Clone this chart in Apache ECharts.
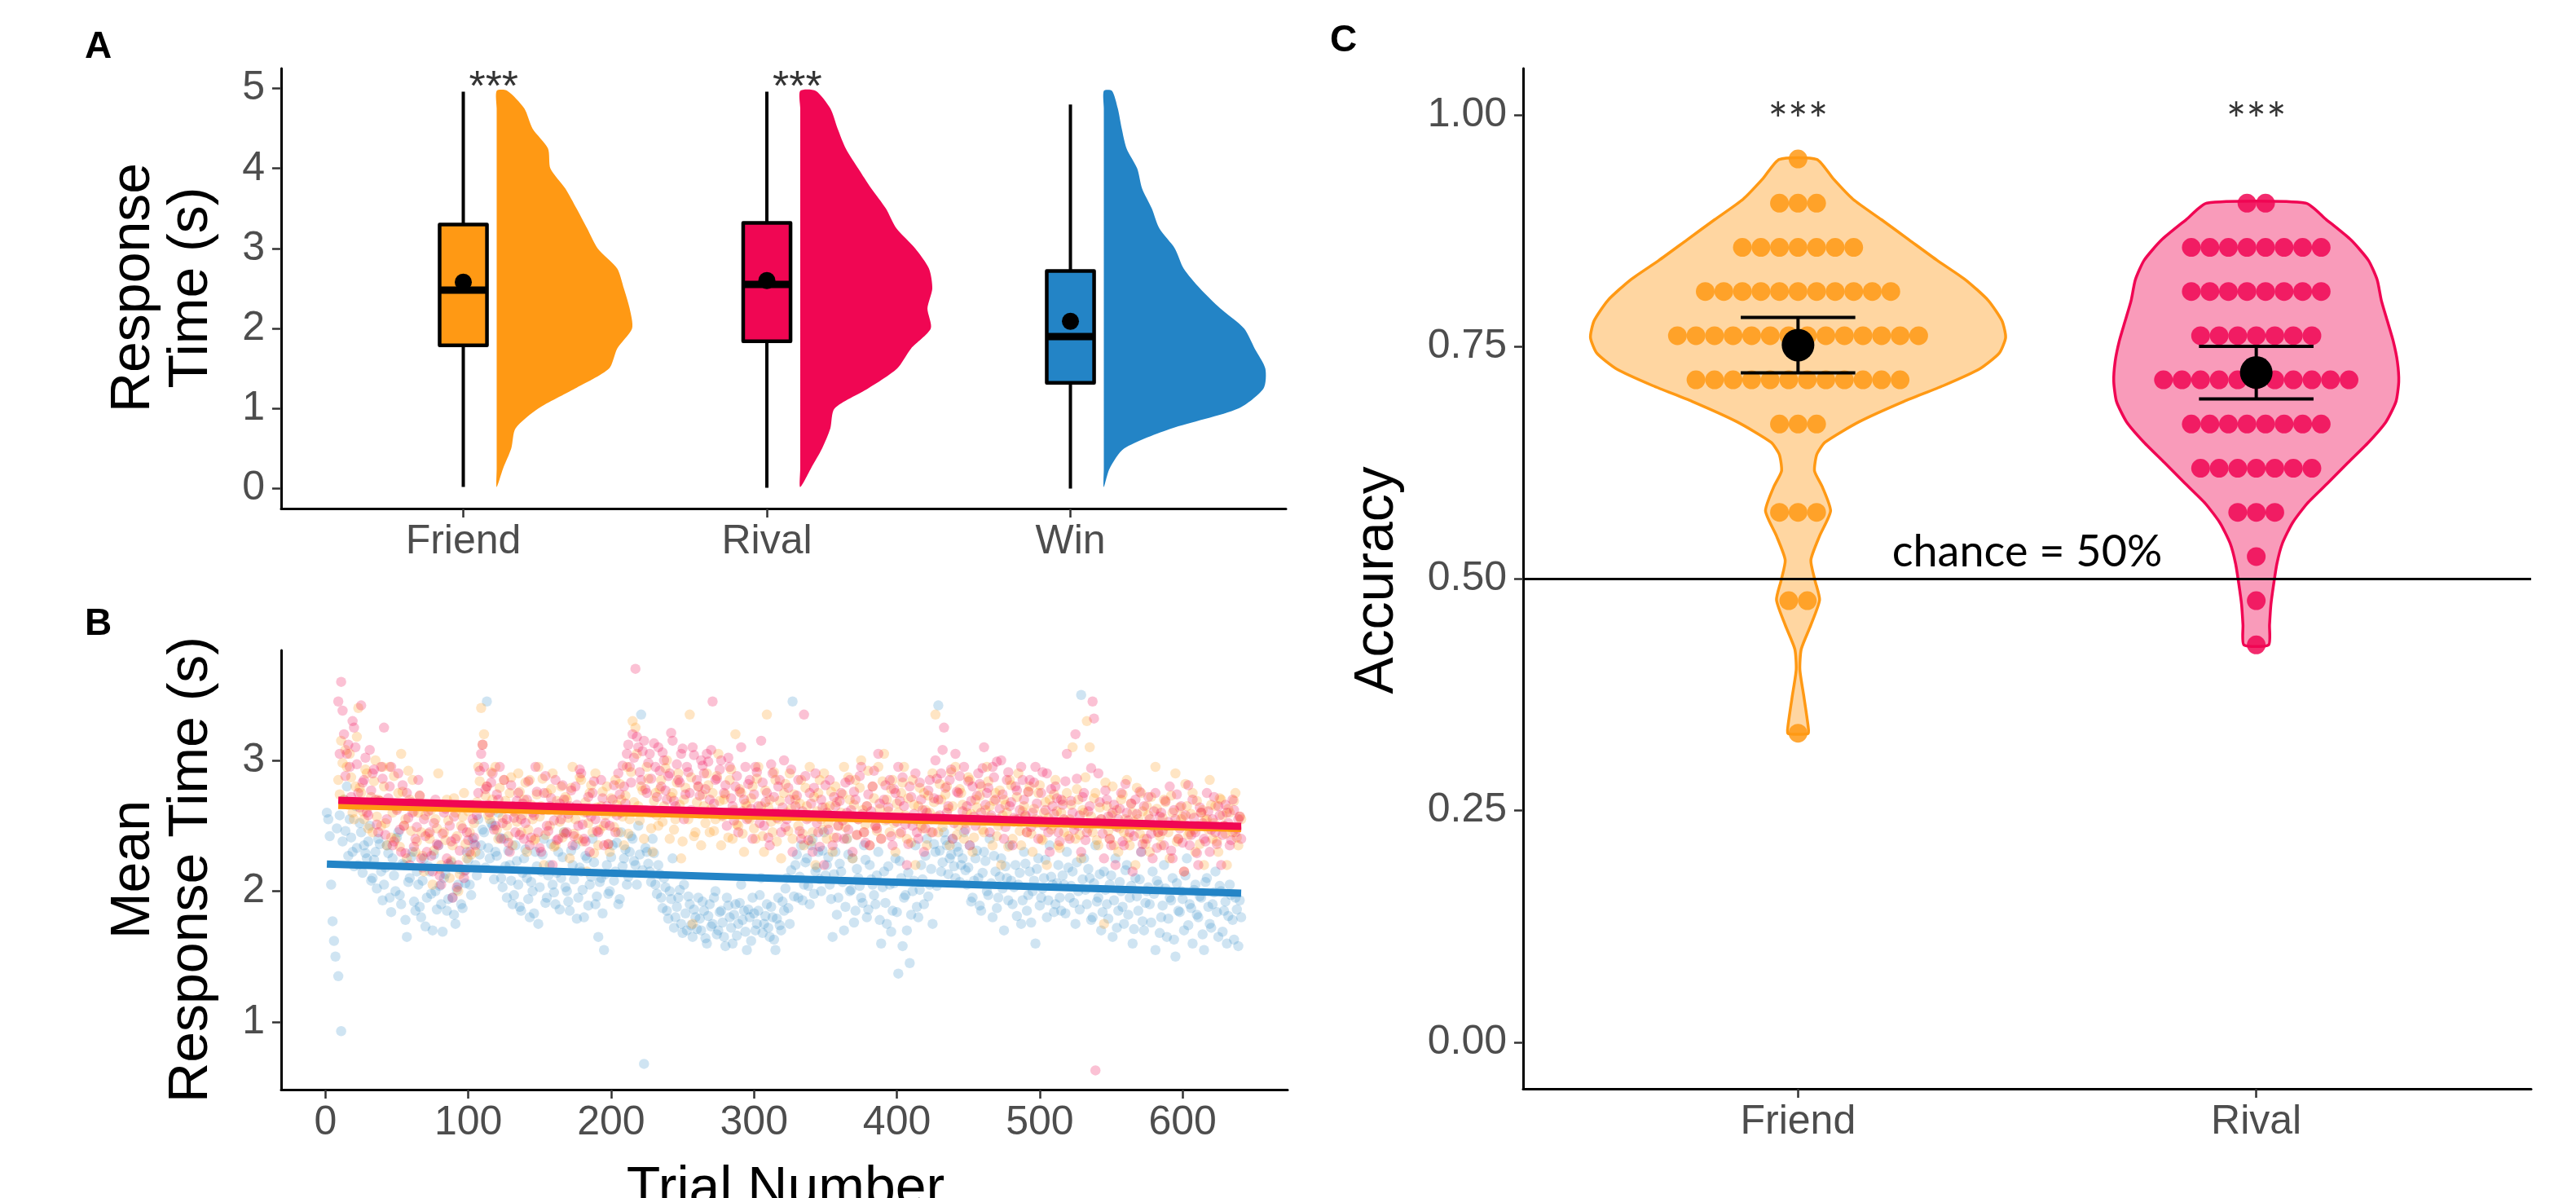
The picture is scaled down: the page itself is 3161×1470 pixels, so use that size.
<!DOCTYPE html>
<html><head><meta charset="utf-8">
<script src="https://cdn.jsdelivr.net/npm/echarts@6/dist/echarts.min.js"></script>
<style>html,body{margin:0;padding:0;background:#fff}#c{width:3161px;height:1470px}</style>
</head><body><div id="c"></div>
<script>
// ---------- DATA ----------
const categoriesA = ['Friend', 'Rival', 'Win'];
const categoriesC = ['Friend', 'Rival'];
const colFriend = '#FF9914', colRival = '#F00653', colWin = '#2384C6';
const colorsA = [colFriend, colRival, colWin];

// Panel A: box statistics (s)
const whiskerLow = [0.02, 0.01, 0.00];
const q1 = [1.79, 1.84, 1.32];
const median = [2.48, 2.55, 1.90];
const q3 = [3.30, 3.32, 2.72];
const whiskerHigh = [4.96, 4.96, 4.80];
const meanRT = [2.58, 2.60, 2.09];
const sigA = ['***', '***', ''];

// Panel A: half-violin density widths (x-axis units) at response-time levels
const rtLevels = [0.02, 0.25, 0.5, 0.75, 1, 1.25, 1.5, 1.75, 2, 2.25, 2.5, 2.75, 3, 3.25, 3.5, 3.75, 4, 4.25, 4.5, 4.75, 4.97];
const densFriend = [0, 0.021, 0.048, 0.062, 0.137, 0.258, 0.370, 0.397, 0.446, 0.438, 0.419, 0.397, 0.333, 0.298, 0.263, 0.226, 0.177, 0.169, 0.118, 0.091, 0.035];
const densRival = [0, 0.035, 0.072, 0.099, 0.113, 0.223, 0.319, 0.365, 0.430, 0.419, 0.435, 0.424, 0.379, 0.317, 0.282, 0.234, 0.191, 0.150, 0.123, 0.099, 0.051];
const densWin = [0, 0.019, 0.067, 0.223, 0.443, 0.526, 0.532, 0.497, 0.462, 0.384, 0.317, 0.263, 0.234, 0.183, 0.158, 0.126, 0.110, 0.075, 0.059, 0.046, 0.027];

// Panel B: mean response time per trial (odd trials and even trials)
const trialStep = 2;
const startOddFR = 9, startEvenFR = 10, startOddWin = 1, startEvenWin = 2;
const rtRivalOdd = [
3.45,3.60,3.20,3.05,2.95,3.30,3.10,2.75,3.42,2.85,2.60,3.08,2.90,2.70,2.45,2.95,
3.25,2.55,2.80,2.35,2.65,2.90,2.30,2.50,2.75,2.20,2.60,2.40,2.85,2.25,2.55,2.30,
2.45,2.15,2.70,2.35,2.05,2.60,2.25,2.50,1.95,2.40,2.20,2.65,2.10,2.45,2.30,2.55,
2.35,2.75,3.05,2.95,2.80,2.60,2.90,2.50,2.70,2.40,2.85,2.55,2.30,2.65,2.45,2.75,
2.55,2.40,2.70,2.35,2.60,2.95,2.45,2.30,2.75,2.50,2.65,2.20,2.85,2.40,2.55,2.70,
2.45,2.65,2.35,2.80,2.50,2.90,2.40,2.60,2.30,2.75,2.55,2.45,2.85,2.35,2.65,2.50,
2.70,2.45,2.90,2.60,2.80,3.05,2.95,3.20,3.70,3.10,2.85,3.15,2.75,3.05,2.60,2.95,
3.10,2.80,3.00,2.70,2.90,3.15,2.65,2.85,3.05,2.55,2.95,2.75,3.10,2.60,2.80,3.00,
2.90,3.05,2.70,3.45,2.85,2.60,3.00,2.75,2.50,2.95,2.65,2.80,2.45,3.10,2.70,2.55,
2.85,2.40,2.95,2.65,3.15,2.50,2.75,2.35,2.90,2.60,2.80,2.45,3.00,2.55,2.70,2.30,
2.65,2.85,2.40,3.35,2.55,2.75,2.30,2.90,2.45,2.70,2.20,2.60,2.85,2.35,2.65,2.50,
2.75,2.40,2.60,2.85,2.30,2.70,2.55,2.95,2.45,2.65,2.35,2.80,2.50,3.05,2.40,2.70,
2.55,2.85,2.35,2.75,2.95,2.45,2.65,2.20,2.80,2.50,2.90,2.40,2.70,2.30,2.60,2.85,
2.45,3.00,2.70,2.90,3.25,2.60,2.85,2.40,3.05,2.75,2.55,2.95,2.65,2.35,2.80,2.50,
2.90,2.60,3.10,2.75,2.45,2.95,2.70,2.55,3.00,2.40,2.85,2.65,2.35,2.80,2.55,2.95,
2.70,2.45,2.85,2.60,2.95,2.40,2.75,2.50,2.90,2.30,2.65,2.80,2.45,2.70,2.55,3.05,
2.40,2.60,3.20,2.50,2.30,2.75,2.45,2.65,3.45,0.63,2.90,2.55,2.25,2.70,2.40,2.60,
2.20,2.55,2.75,2.35,2.60,2.45,2.15,2.70,2.50,2.30,2.65,2.40,2.55,2.25,2.75,2.45,
2.60,2.35,2.50,2.80,2.25,2.55,2.40,2.65,2.15,2.50,2.35,2.70,2.45,2.20,2.60,2.40,
2.75,2.30,2.55,2.45,2.65,2.20,2.50,2.60,2.35,2.70,2.45,2.55,2.40];
const rtRivalEven = [
3.05,3.38,2.88,3.12,2.72,3.25,2.97,2.64,2.83,3.02,2.58,2.77,2.93,2.51,2.69,2.86,
2.43,2.71,2.95,2.38,2.62,2.47,2.81,2.29,2.56,2.68,2.34,2.49,2.73,2.18,2.42,2.61,
2.27,2.52,2.36,2.12,2.44,2.63,2.21,2.38,2.57,2.03,2.31,2.48,2.16,2.39,2.66,2.41,
2.58,2.92,3.12,2.78,2.66,2.83,2.47,2.74,2.95,2.52,2.63,2.37,2.81,2.56,2.69,2.43,
2.67,2.52,2.84,2.41,2.58,2.76,2.33,2.62,2.88,2.46,2.71,2.54,2.39,2.67,2.81,2.44,
2.59,2.77,2.42,2.66,2.93,2.51,2.38,2.72,2.57,2.84,2.46,2.63,2.71,2.52,2.36,2.62,
2.81,2.58,2.74,2.96,2.67,3.12,2.83,3.02,3.18,2.91,3.07,2.78,2.98,2.86,3.13,2.72,
2.92,3.06,2.77,2.88,3.21,2.69,2.97,2.83,3.09,2.74,2.91,2.62,3.04,2.85,2.73,2.96,
2.78,2.99,3.08,2.67,2.86,2.93,2.58,2.81,3.02,2.71,2.54,2.88,2.76,2.61,2.95,2.82,
2.63,2.74,2.91,2.52,2.83,2.68,2.41,2.97,2.72,2.56,2.85,2.64,2.49,2.79,2.93,2.58,
2.73,2.46,2.61,2.88,2.39,2.67,2.79,2.52,2.34,2.64,2.81,2.47,2.58,2.72,2.41,2.69,
2.54,2.83,2.47,2.62,2.76,2.43,2.88,2.59,2.37,2.74,2.61,2.92,2.48,2.67,2.56,2.81,
2.64,2.42,2.78,2.53,2.69,2.87,2.51,2.36,2.72,2.59,2.45,2.83,2.62,2.48,2.77,2.55,
2.71,2.86,2.58,3.08,2.79,2.65,2.93,2.52,2.76,2.88,2.61,2.47,2.84,2.69,2.57,2.73,
2.82,2.94,2.66,2.79,2.58,2.87,2.99,2.63,2.74,2.49,2.91,2.68,2.56,2.77,2.62,2.85,
2.58,2.76,2.49,2.83,2.67,2.54,2.91,2.62,2.45,2.78,2.59,2.71,2.38,2.66,2.84,2.53,
2.69,2.47,2.86,2.58,2.72,2.39,2.61,2.94,3.32,2.53,2.68,2.44,2.77,2.57,2.35,2.66,
2.49,2.63,2.38,2.82,2.54,2.67,2.42,2.59,2.76,2.36,2.51,2.72,2.44,2.61,2.33,2.57,
2.46,2.69,2.53,2.31,2.62,2.74,2.48,2.37,2.58,2.81,2.43,2.56,2.29,2.64,2.52,2.38,
2.61,2.47,2.72,2.36,2.58,2.43,2.66,2.52,2.39,2.62,2.48,2.57];
const rtFriendOdd = [
2.85,3.15,2.70,2.95,3.05,2.60,2.80,3.40,2.75,2.55,2.90,2.65,2.45,3.00,2.70,2.50,
2.80,2.35,2.95,2.60,2.40,2.75,3.05,2.50,2.25,2.70,2.85,2.30,2.60,2.45,2.15,2.65,
2.40,2.05,2.55,2.90,2.20,2.45,2.70,2.10,2.35,2.60,2.00,2.50,2.75,2.25,2.45,2.65,
2.30,2.95,3.40,3.20,2.80,2.55,2.70,2.95,2.40,2.65,2.85,2.50,2.75,2.35,2.60,2.90,
2.45,2.70,2.30,2.85,2.55,2.40,2.95,2.65,2.20,2.75,2.50,2.90,2.35,2.60,2.80,2.45,
2.70,2.25,2.95,2.55,2.40,2.85,2.60,2.15,2.75,2.45,2.90,2.35,2.65,2.50,2.80,2.30,
2.60,2.85,2.45,2.70,2.35,2.95,2.55,3.30,3.25,2.65,2.80,2.40,2.95,2.60,2.30,2.75,
2.50,2.85,2.65,3.00,2.40,2.75,2.55,2.90,2.25,2.70,2.60,3.35,1.75,2.45,2.80,2.35,
2.65,2.90,2.45,2.75,2.55,3.05,2.35,2.70,2.60,2.85,2.40,3.20,2.50,2.75,2.30,2.65,
2.55,2.80,2.40,2.95,2.65,2.30,3.35,2.70,2.45,2.85,2.55,2.25,2.75,2.60,2.90,2.40,
2.70,2.50,2.85,2.35,2.65,2.95,2.45,2.20,2.75,2.55,2.90,2.40,2.65,2.30,2.80,2.50,
2.60,2.95,2.40,2.70,2.25,2.85,2.55,3.00,2.45,2.65,2.35,2.80,2.50,2.95,2.40,3.05,
2.70,2.45,2.85,2.30,2.60,2.75,2.95,2.40,2.55,2.85,2.20,2.65,2.50,2.75,2.35,2.60,
2.90,3.35,2.45,2.70,2.55,2.80,2.35,2.65,2.95,2.50,2.75,2.40,2.60,2.85,2.30,2.70,
2.55,2.80,2.45,2.95,2.65,2.35,2.75,2.50,2.20,2.70,2.60,2.85,2.40,2.55,2.90,2.35,
2.65,2.45,2.80,2.30,2.55,2.75,2.40,2.60,2.20,2.70,2.50,2.85,2.35,2.60,2.45,2.75,
2.55,3.10,2.40,2.70,2.25,2.60,3.30,3.10,2.45,2.75,2.35,2.55,1.75,2.65,2.40,2.80,
2.50,2.30,2.70,2.45,2.85,2.35,2.60,2.20,2.55,2.75,2.40,2.65,2.30,2.50,2.95,2.45,
2.35,2.70,2.50,2.25,2.60,2.90,2.40,2.55,2.15,2.65,2.45,2.75,2.30,2.50,2.60,2.20,
2.55,2.85,2.40,2.65,2.30,2.70,2.50,2.20,2.60,2.45,2.75,2.35,2.55];
const rtFriendEven = [
2.74,2.98,3.08,2.66,2.87,2.55,3.18,2.79,2.61,2.93,2.48,2.72,2.84,2.57,2.69,2.95,
2.52,2.67,2.41,2.88,2.63,2.34,2.76,2.55,2.92,2.46,2.61,2.38,2.73,2.27,2.58,2.44,
2.62,2.31,2.48,2.17,2.66,2.39,2.54,2.23,2.71,2.42,2.13,2.57,2.36,2.61,2.28,2.52,
2.68,2.84,3.12,2.73,2.58,2.91,2.62,2.47,2.79,2.56,2.69,2.42,2.87,2.61,2.53,2.76,
2.58,2.83,2.47,2.66,2.39,2.74,2.57,2.86,2.43,2.62,2.78,2.34,2.69,2.53,2.41,2.72,
2.56,2.79,2.44,2.63,2.87,2.38,2.68,2.52,2.81,2.29,2.64,2.47,2.76,2.58,2.36,2.71,
2.49,2.66,2.82,2.57,2.73,2.44,2.91,2.68,3.05,2.54,2.77,2.62,2.86,2.48,2.69,2.58,
2.78,2.53,2.94,2.61,2.72,2.47,2.83,2.66,2.38,2.79,2.55,2.87,2.42,2.68,2.59,2.74,
2.52,2.81,2.63,2.46,2.88,2.69,2.57,2.74,2.41,2.93,2.62,2.51,2.78,2.44,2.67,2.56,
2.71,2.48,2.86,2.59,2.42,2.77,2.64,2.53,2.91,2.38,2.69,2.57,2.82,2.46,2.63,2.74,
2.58,2.67,2.44,2.79,2.56,2.38,2.72,2.61,2.85,2.47,2.64,2.52,2.76,2.41,2.68,2.57,
2.74,2.49,2.87,2.58,2.66,2.43,2.79,2.62,2.51,2.92,2.57,2.71,2.46,2.63,2.84,2.54,
2.61,2.78,2.52,2.67,2.44,2.83,2.58,2.71,2.37,2.66,2.54,2.79,2.48,2.62,2.73,2.45,
2.68,2.57,2.82,2.49,2.74,2.63,2.91,2.55,2.43,2.78,2.66,2.52,2.87,2.59,2.41,2.64,
2.73,2.47,2.62,2.84,2.56,2.69,2.42,2.77,2.58,2.66,2.34,2.81,2.53,2.72,2.46,2.61,
2.57,2.76,2.44,2.63,2.52,2.81,2.39,2.68,2.56,2.47,2.74,2.61,2.33,2.69,2.54,2.42,
2.66,2.51,2.78,2.43,2.62,2.87,2.48,2.57,2.71,2.39,2.64,2.52,2.83,2.46,2.58,2.35,
2.62,2.48,2.74,2.55,2.41,2.67,2.53,2.79,2.44,2.61,2.36,2.58,2.72,2.49,2.63,2.42,
2.56,2.68,2.45,2.73,2.51,2.38,2.64,2.57,2.82,2.43,2.59,2.47,2.69,2.36,2.62,2.54,
2.47,2.66,2.52,2.38,2.71,2.58,2.44,2.63,2.49,2.69,2.41,2.57];
const rtWinOdd = [
2.60,2.42,1.77,1.50,1.35,0.93,2.70,2.80,2.55,2.30,2.65,2.20,2.45,2.35,2.25,2.50,
2.10,2.30,2.40,2.15,2.05,2.35,1.95,2.25,2.00,2.45,1.90,2.20,1.65,2.10,2.30,1.85,
2.05,1.80,2.25,1.95,2.15,1.70,2.00,2.35,1.90,2.10,1.85,2.20,1.95,1.75,2.05,1.90,
2.15,2.30,2.05,2.40,2.20,2.55,2.35,2.45,3.45,2.25,2.50,2.30,2.60,2.10,2.40,1.95,
2.20,1.90,2.35,2.05,1.85,2.25,2.10,1.80,2.00,2.30,1.75,2.15,2.40,1.95,2.20,2.05,
1.90,2.30,2.10,2.45,2.00,1.85,2.20,2.35,1.95,2.15,1.80,2.25,2.05,2.40,1.90,1.65,
2.10,1.55,2.20,2.00,2.35,2.15,1.90,2.45,2.25,2.05,2.30,2.40,2.20,2.50,3.35,0.68,
2.30,2.15,2.40,2.05,2.20,1.95,2.10,1.85,2.00,2.25,1.80,1.95,1.75,2.05,1.70,1.90,
1.65,1.80,1.95,1.70,1.85,1.60,1.90,1.75,2.00,1.70,1.85,1.65,1.95,1.80,1.60,1.90,
1.75,2.05,1.85,1.55,1.80,1.95,1.70,1.85,2.10,1.75,1.90,1.65,1.80,1.55,1.95,1.70,
1.85,2.10,1.75,3.45,2.20,1.95,2.35,2.05,2.25,1.90,2.40,2.15,2.30,2.00,2.45,2.20,
2.05,1.65,2.30,1.95,2.15,1.70,2.40,2.00,2.25,1.85,2.10,1.95,2.35,1.80,2.20,2.05,
1.90,2.30,1.60,2.15,1.75,2.05,1.85,2.25,1.37,2.10,1.95,1.70,1.45,2.00,2.35,1.80,
2.20,1.90,2.40,2.05,1.75,2.30,3.42,2.15,2.45,2.35,2.25,2.40,2.10,2.30,2.20,2.45,
2.05,2.35,1.95,2.25,2.10,1.85,2.30,2.00,2.40,1.80,2.15,1.95,2.25,1.70,2.10,2.35,
1.90,2.20,2.05,1.75,2.30,1.85,2.15,2.00,1.60,2.25,1.95,2.10,1.80,2.35,2.05,1.90,
2.20,1.85,2.05,2.30,1.95,2.15,1.75,2.00,3.50,2.25,1.90,2.10,1.80,2.35,1.95,1.70,
2.15,1.90,2.05,1.65,2.25,1.85,2.00,1.75,2.20,1.95,1.60,2.10,1.85,2.30,1.70,2.00,
1.90,2.15,1.55,2.05,1.80,2.20,1.65,1.95,2.10,1.50,1.85,2.00,1.70,2.25,1.90,1.60,
2.05,1.80,1.95,1.55,2.10,1.75,1.90,2.15,1.65,2.00,1.85,1.60,2.05,1.78,1.95,1.58,
1.80];
const rtWinEven = [
2.55,2.05,1.62,2.48,2.58,2.38,2.46,2.27,2.41,2.19,2.33,2.52,2.14,2.29,2.38,2.08,
2.24,2.02,2.36,1.93,2.18,2.29,1.84,2.12,2.41,1.97,2.21,1.78,2.07,2.26,1.92,2.15,
1.88,2.08,1.73,2.19,1.98,2.28,1.86,2.04,1.69,2.13,1.94,2.22,1.82,2.01,2.17,1.87,
2.06,2.24,1.97,2.36,2.12,2.28,2.47,2.18,2.33,2.52,2.09,2.27,2.41,2.03,2.19,2.31,
2.08,1.97,2.23,1.88,2.14,2.32,1.94,2.07,1.83,2.19,2.03,2.28,1.91,2.12,2.36,1.99,
2.14,1.86,2.26,2.03,1.92,2.31,2.09,1.79,2.18,2.01,2.27,1.89,2.11,2.22,1.96,2.07,
1.83,2.13,1.98,2.26,2.08,2.37,1.94,2.19,2.32,2.11,2.42,2.23,2.05,2.28,2.16,2.33,
2.21,2.07,2.29,1.98,2.13,1.87,2.03,1.79,1.94,1.72,1.88,2.01,1.68,1.83,1.96,1.74,
1.86,1.71,1.79,1.92,1.64,1.81,1.73,1.95,1.67,1.84,1.76,1.58,1.89,1.72,1.82,1.66,
1.91,1.78,1.69,1.86,1.62,1.83,1.75,1.97,1.68,1.81,1.72,1.88,1.63,1.79,1.74,1.92,
2.02,1.87,2.16,1.96,2.28,2.11,1.93,2.22,2.04,2.35,1.98,2.18,2.09,2.31,2.12,2.26,
1.94,2.13,1.82,2.21,2.07,1.88,2.28,2.01,1.76,2.17,2.04,1.91,2.24,1.86,2.09,1.97,
2.12,1.78,2.03,1.91,2.19,1.69,2.06,1.84,2.23,1.58,1.97,2.14,1.82,2.08,1.88,2.01,
2.09,2.27,1.96,2.17,2.36,2.04,2.31,2.22,2.39,2.13,2.28,2.19,2.34,2.07,2.25,2.16,
2.18,1.92,2.08,2.31,1.89,2.14,2.23,1.97,2.06,2.27,1.87,2.11,2.02,2.19,1.93,2.08,
2.03,1.81,2.14,1.93,2.21,1.97,1.76,2.08,2.17,1.89,2.02,2.24,1.93,2.11,1.84,2.06,
1.95,2.12,1.83,2.18,2.04,1.91,2.22,1.86,2.09,2.01,2.17,1.78,2.06,1.92,2.13,1.84,
2.01,1.79,2.12,1.93,1.72,2.07,1.88,2.16,1.82,2.04,1.71,1.96,2.09,1.77,1.91,2.03,
1.76,1.98,2.08,1.68,1.89,2.02,1.79,1.93,1.63,2.06,1.84,1.94,2.12,1.74,1.87,2.01,
1.82,1.96,1.67,2.07,1.88,1.72,1.99,1.84,2.04,1.69,1.92,1.81,1.97,1.63,1.86,1.93];
// Panel B: fitted regression lines [trial, value]
const fitWin = [[1, 2.207], [641, 1.985]];
const fitFriend = [[9, 2.655], [641, 2.480]];
const fitRival = [[9, 2.695], [641, 2.495]];
const trialTicks = [0, 100, 200, 300, 400, 500, 600];
const rtTicksB = [1, 2, 3];
const rtTicksA = [0, 1, 2, 3, 4, 5];

// Panel C: accuracy dot rows (proportion correct) and participant counts
const accLevelsFriend = [0.9524, 0.9048, 0.8571, 0.8095, 0.7619, 0.7143, 0.6667, 0.5714, 0.4762, 0.3333];
const accCountsFriend = [1, 3, 7, 11, 14, 12, 3, 3, 2, 1];
const accLevelsRival = [0.9048, 0.8571, 0.8095, 0.7619, 0.7143, 0.6667, 0.6190, 0.5714, 0.5238, 0.4762, 0.4286];
const accCountsRival = [2, 8, 8, 7, 11, 8, 7, 3, 1, 1, 1];
// Panel C: violin half-widths (x-axis units) at accuracy levels
const vLevelsFriend = [0.333, 0.341, 0.372, 0.402, 0.424, 0.450, 0.477, 0.498, 0.520, 0.546, 0.573, 0.599, 0.616, 0.634, 0.647, 0.669, 0.691, 0.708, 0.726, 0.743, 0.760, 0.778, 0.800, 0.822, 0.843, 0.865, 0.887, 0.909, 0.931, 0.952];
const vWidthFriend = [0.022, 0.022, 0.013, 0.004, 0.007, 0.028, 0.047, 0.037, 0.028, 0.047, 0.071, 0.053, 0.036, 0.041, 0.059, 0.133, 0.231, 0.317, 0.396, 0.439, 0.453, 0.445, 0.415, 0.366, 0.304, 0.243, 0.182, 0.120, 0.077, 0.041];
const vLevelsRival = [0.4286, 0.450, 0.472, 0.494, 0.516, 0.538, 0.560, 0.581, 0.603, 0.625, 0.647, 0.669, 0.691, 0.7125, 0.734, 0.756, 0.778, 0.800, 0.822, 0.843, 0.865, 0.887, 0.9048];
const vWidthRival = [0.027, 0.029, 0.032, 0.038, 0.045, 0.057, 0.079, 0.111, 0.156, 0.200, 0.245, 0.283, 0.305, 0.311, 0.308, 0.299, 0.286, 0.273, 0.264, 0.245, 0.207, 0.153, 0.108];
// Panel C: mean and standard error
const accMean = [0.7518, 0.7222];
const accLow = [0.7218, 0.6937];
const accHigh = [0.7815, 0.7503];
const accTicks = [0, 0.25, 0.5, 0.75, 1];
const chanceLevel = 0.5;

// ---------- STYLE / LAYOUT ----------
const FONT = 'Liberation Sans';
const tickLabelColor = '#4D4D4D';
const violinOffsetA = 0.11;
const boxHalfA = 0.078;
const dotStep = 0.0405;

function xAxisCfg(gridIndex, min, max, ticks, fmt, margin) {
  return {
    type: 'value', gridIndex, min, max,
    axisLine: { show: true, onZero: false, lineStyle: { color: '#000', width: 3 } },
    axisTick: { show: true, length: 11, customValues: ticks, lineStyle: { color: '#333', width: 2.5 } },
    axisLabel: { show: true, customValues: ticks, formatter: fmt, color: tickLabelColor, fontSize: 50, fontFamily: FONT, margin },
    splitLine: { show: false }
  };
}
function yAxisCfg(gridIndex, min, max, ticks, fmt) {
  return {
    type: 'value', gridIndex, min, max,
    axisLine: { show: true, onZero: false, lineStyle: { color: '#000', width: 3 } },
    axisTick: { show: true, length: 11, customValues: ticks, lineStyle: { color: '#333', width: 2.5 } },
    axisLabel: { show: true, customValues: ticks, formatter: fmt, color: tickLabelColor, fontSize: 50, fontFamily: FONT, margin: 20 },
    splitLine: { show: false }
  };
}

const densA = [densFriend, densRival, densWin];

function renderHalfViolin(params, api) {
  const i = params.dataIndex;
  const cx = api.value(0) + violinOffsetA;
  const d = densA[i];
  const pts = [];
  for (let k = 0; k < rtLevels.length; k++) pts.push(api.coord([cx + d[k], rtLevels[k]]));
  for (let k = rtLevels.length - 1; k >= 1; k--) pts.push(api.coord([cx, rtLevels[k]]));
  return { type: 'polygon', shape: { points: pts, smooth: 0.25 }, style: { fill: colorsA[i], stroke: null } };
}

function renderBox(params, api) {
  const i = params.dataIndex;
  const x = api.value(0);
  const lo = api.coord([x, api.value(1)]);
  const b1 = api.coord([x, api.value(2)]);
  const md = api.coord([x, api.value(3)]);
  const b3 = api.coord([x, api.value(4)]);
  const hi = api.coord([x, api.value(5)]);
  const mn = api.coord([x, api.value(6)]);
  const hw = api.size([boxHalfA, 0])[0];
  return {
    type: 'group', children: [
      { type: 'line', shape: { x1: lo[0], y1: lo[1], x2: b1[0], y2: b1[1] }, style: { stroke: '#000', lineWidth: 4 } },
      { type: 'line', shape: { x1: b3[0], y1: b3[1], x2: hi[0], y2: hi[1] }, style: { stroke: '#000', lineWidth: 4 } },
      { type: 'rect', shape: { x: b1[0] - hw, y: b3[1], width: 2 * hw, height: b1[1] - b3[1] }, style: { fill: colorsA[i], stroke: '#000', lineWidth: 4.5, lineJoin: 'round' } },
      { type: 'line', shape: { x1: b1[0] - hw, y1: md[1], x2: b1[0] + hw, y2: md[1] }, style: { stroke: '#000', lineWidth: 9 } },
      { type: 'circle', shape: { cx: mn[0], cy: mn[1], r: 10.5 }, style: { fill: '#000' } }
    ]
  };
}

const vC = [[vLevelsFriend, vWidthFriend], [vLevelsRival, vWidthRival]];
const colorsC = [colFriend, colRival];
function renderViolinC(params, api) {
  const i = params.dataIndex;
  const cx = api.value(0);
  const lv = vC[i][0], w = vC[i][1];
  const pts = [];
  for (let k = lv.length - 1; k >= 0; k--) pts.push(api.coord([cx - w[k], lv[k]]));
  for (let k = 0; k < lv.length; k++) pts.push(api.coord([cx + w[k], lv[k]]));
  return {
    type: 'polygon', shape: { points: pts, smooth: 0.2 },
    style: { fill: echarts.color.modifyAlpha(colorsC[i], 0.4), stroke: colorsC[i], lineWidth: 3.5 }
  };
}
function renderMeanSE(params, api) {
  const x = api.value(0);
  const pm = api.coord([x, api.value(1)]);
  const pl = api.coord([x, api.value(2)]);
  const ph = api.coord([x, api.value(3)]);
  const hw = api.size([0.125, 0])[0];
  const st = { stroke: '#000', lineWidth: 4 };
  return {
    type: 'group', children: [
      { type: 'line', shape: { x1: pl[0], y1: pl[1], x2: ph[0], y2: ph[1] }, style: st },
      { type: 'line', shape: { x1: pl[0] - hw, y1: pl[1], x2: pl[0] + hw, y2: pl[1] }, style: st },
      { type: 'line', shape: { x1: ph[0] - hw, y1: ph[1], x2: ph[0] + hw, y2: ph[1] }, style: st },
      { type: 'circle', shape: { cx: pm[0], cy: pm[1], r: 20 }, style: { fill: '#000' } }
    ]
  };
}

function dotRows(cat, levels, counts) {
  const out = [];
  levels.forEach((lv, r) => {
    const n = counts[r];
    for (let j = 0; j < n; j++) out.push([cat + (j - (n - 1) / 2) * dotStep, lv]);
  });
  return out;
}
function trialSeries(start, vals) { return vals.map((v, i) => [start + i * trialStep, v]); }
function bothTrials(startOdd, odd, startEven, even) { return trialSeries(startOdd, odd).concat(trialSeries(startEven, even)).sort((a, b) => a[0] - b[0]); }

const chart = echarts.init(document.getElementById('c'), null, { renderer: 'canvas' });
chart.setOption({
  animation: false,
  backgroundColor: '#fff',
  grid: [
    { left: 345, top: 84, width: 1233, height: 540 },
    { left: 345, top: 798, width: 1235, height: 539 },
    { left: 1869, top: 84, width: 1237, height: 1252 }
  ],
  xAxis: [
    xAxisCfg(0, 0.4, 3.71, [1, 2, 3], v => categoriesA[Math.round(v) - 1], 16),
    xAxisCfg(1, -31, 673.5, trialTicks, v => String(v), 16),
    xAxisCfg(2, 0.4, 2.6, [1, 2], v => categoriesC[Math.round(v) - 1], 16)
  ],
  yAxis: [
    yAxisCfg(0, -0.25, 5.25, rtTicksA, v => String(v)),
    yAxisCfg(1, 0.483, 3.841, rtTicksB, v => String(v)),
    yAxisCfg(2, -0.05, 1.05, accTicks, v => v.toFixed(2))
  ],
  graphic: [
    { type: 'text', x: 104, y: 35, style: { text: 'A', fontSize: 46, fontWeight: 'bold', fontFamily: FONT, fill: '#000', align: 'left', verticalAlign: 'top' } },
    { type: 'text', x: 104, y: 743, style: { text: 'B', fontSize: 46, fontWeight: 'bold', fontFamily: FONT, fill: '#000', align: 'left', verticalAlign: 'top' } },
    { type: 'text', x: 1632, y: 27, style: { text: 'C', fontSize: 46, fontWeight: 'bold', fontFamily: FONT, fill: '#000', align: 'left', verticalAlign: 'top' } },
    { type: 'text', x: 200, y: 353, rotation: Math.PI / 2, style: { text: 'Response\nTime (s)', fontSize: 68, lineHeight: 71, fontFamily: FONT, fill: '#000', align: 'center', verticalAlign: 'middle' } },
    { type: 'text', x: 200, y: 1067, rotation: Math.PI / 2, style: { text: 'Mean\nResponse Time (s)', fontSize: 68, lineHeight: 71, fontFamily: FONT, fill: '#000', align: 'center', verticalAlign: 'middle' } },
    { type: 'text', x: 964, y: 1426, style: { text: 'Trial Number', fontSize: 68, fontFamily: FONT, fill: '#000', align: 'center', verticalAlign: 'top' } },
    { type: 'text', x: 1690, y: 712, rotation: Math.PI / 2, style: { text: 'Accuracy', fontSize: 68, fontFamily: FONT, fill: '#000', align: 'center', verticalAlign: 'middle' } }
  ],
  series: [
    // Panel A
    { type: 'custom', xAxisIndex: 0, yAxisIndex: 0, renderItem: renderHalfViolin, data: [[1, 0], [2, 0], [3, 0]], z: 2 },
    { type: 'custom', xAxisIndex: 0, yAxisIndex: 0, renderItem: renderBox, z: 3,
      data: categoriesA.map((c, i) => [i + 1, whiskerLow[i], q1[i], median[i], q3[i], whiskerHigh[i], meanRT[i]]) },
    { type: 'scatter', xAxisIndex: 0, yAxisIndex: 0, symbolSize: 0, silent: true, z: 4,
      data: categoriesA.map((c, i) => ({ value: [i + 1 + 0.1, 5.0], label: { show: !!sigA[i], formatter: sigA[i] } })),
      label: { position: 'inside', color: '#000', fontSize: 52, fontFamily: FONT, verticalAlign: 'middle' } },
    // Panel B
    { type: 'scatter', xAxisIndex: 1, yAxisIndex: 1, symbolSize: 12.5, data: bothTrials(startOddWin, rtWinOdd, startEvenWin, rtWinEven), itemStyle: { color: colWin, opacity: 0.22 }, z: 2 },
    { type: 'scatter', xAxisIndex: 1, yAxisIndex: 1, symbolSize: 12.5, data: bothTrials(startOddFR, rtFriendOdd, startEvenFR, rtFriendEven), itemStyle: { color: colFriend, opacity: 0.25 }, z: 2 },
    { type: 'scatter', xAxisIndex: 1, yAxisIndex: 1, symbolSize: 12.5, data: bothTrials(startOddFR, rtRivalOdd, startEvenFR, rtRivalEven), itemStyle: { color: colRival, opacity: 0.25 }, z: 2 },
    { type: 'line', xAxisIndex: 1, yAxisIndex: 1, data: fitWin, showSymbol: false, lineStyle: { color: colWin, width: 9 }, z: 3 },
    { type: 'line', xAxisIndex: 1, yAxisIndex: 1, data: fitFriend, showSymbol: false, lineStyle: { color: colFriend, width: 9 }, z: 3 },
    { type: 'line', xAxisIndex: 1, yAxisIndex: 1, data: fitRival, showSymbol: false, lineStyle: { color: colRival, width: 9 }, z: 4 },
    // Panel C
    { type: 'custom', xAxisIndex: 2, yAxisIndex: 2, renderItem: renderViolinC, data: [[1, 0.5], [2, 0.5]], z: 2 },
    { type: 'scatter', xAxisIndex: 2, yAxisIndex: 2, symbolSize: 23, data: dotRows(1, accLevelsFriend, accCountsFriend), itemStyle: { color: colFriend, opacity: 0.85 }, z: 3 },
    { type: 'scatter', xAxisIndex: 2, yAxisIndex: 2, symbolSize: 23, data: dotRows(2, accLevelsRival, accCountsRival), itemStyle: { color: colRival, opacity: 0.85 }, z: 3,
      markLine: { silent: true, symbol: 'none', data: [{ yAxis: chanceLevel }], lineStyle: { color: '#000', width: 3, type: 'solid' },
        label: { show: true, position: 'insideMiddleTop', formatter: 'chance = 50%', color: '#000', fontSize: 54, fontFamily: 'Lato', distance: 5 } } },
    { type: 'custom', xAxisIndex: 2, yAxisIndex: 2, renderItem: renderMeanSE, z: 5,
      data: categoriesC.map((c, i) => [i + 1, accMean[i], accLow[i], accHigh[i]]) },
    { type: 'scatter', xAxisIndex: 2, yAxisIndex: 2, symbolSize: 0, silent: true, z: 5,
      data: categoriesC.map((c, i) => [i + 1, 0.993]),
      label: { show: true, position: 'inside', formatter: '***', color: '#000', fontSize: 58, fontFamily: 'Lato', verticalAlign: 'middle' } }
  ]
});
</script>
</body></html>
